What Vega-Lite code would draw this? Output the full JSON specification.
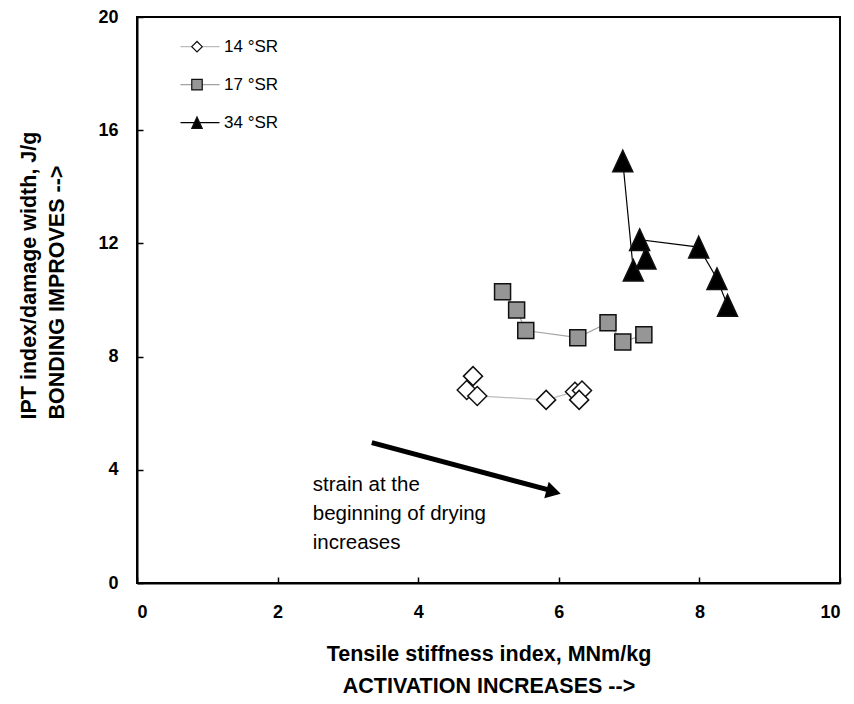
{
  "$schema": "https://vega.github.io/schema/vega-lite/v6.json",
  "width": 703,
  "height": 566,
  "autosize": {"type": "none"},
  "padding": {"left": 137, "top": 17, "right": 14, "bottom": 121},
  "background": "white",
  "config": {
    "view": {"stroke": "black", "strokeWidth": 2},
    "axis": {
      "grid": false,
      "domainColor": "black",
      "domainWidth": 2,
      "tickColor": "black",
      "tickWidth": 1.5,
      "tickSize": -6,
      "labelFont": "Liberation Sans",
      "labelFontSize": 18,
      "labelFontWeight": "bold",
      "labelColor": "black",
      "titleFont": "Liberation Sans",
      "titleFontSize": 21.5,
      "titleFontWeight": "bold",
      "titleColor": "black"
    },
    "legend": {
      "labelFont": "Liberation Sans",
      "labelFontSize": 17,
      "labelColor": "black"
    }
  },
  "datasets": {
    "pts": [
      {"series": "14 °SR", "seq": 1, "x": 4.78, "y": 7.31},
      {"series": "14 °SR", "seq": 2, "x": 4.69, "y": 6.82},
      {"series": "14 °SR", "seq": 3, "x": 4.84, "y": 6.61},
      {"series": "14 °SR", "seq": 4, "x": 5.82, "y": 6.47},
      {"series": "14 °SR", "seq": 5, "x": 6.23, "y": 6.76},
      {"series": "14 °SR", "seq": 6, "x": 6.33, "y": 6.8},
      {"series": "14 °SR", "seq": 7, "x": 6.29, "y": 6.47},
      {"series": "17 °SR", "seq": 1, "x": 5.2, "y": 10.29},
      {"series": "17 °SR", "seq": 2, "x": 5.4, "y": 9.65},
      {"series": "17 °SR", "seq": 3, "x": 5.53, "y": 8.92},
      {"series": "17 °SR", "seq": 4, "x": 6.27, "y": 8.67},
      {"series": "17 °SR", "seq": 5, "x": 6.7, "y": 9.2},
      {"series": "17 °SR", "seq": 6, "x": 6.91, "y": 8.52},
      {"series": "17 °SR", "seq": 7, "x": 7.21, "y": 8.77},
      {"series": "34 °SR", "seq": 1, "x": 6.91, "y": 14.91},
      {"series": "34 °SR", "seq": 2, "x": 7.06, "y": 11.05},
      {"series": "34 °SR", "seq": 3, "x": 7.24, "y": 11.48},
      {"series": "34 °SR", "seq": 4, "x": 7.15, "y": 12.13},
      {"series": "34 °SR", "seq": 5, "x": 7.99, "y": 11.87},
      {"series": "34 °SR", "seq": 6, "x": 8.25, "y": 10.75},
      {"series": "34 °SR", "seq": 7, "x": 8.4, "y": 9.81}
    ],
    "arrow": [{"x": 3.34, "y": 4.96, "x2": 5.87, "y2": 3.28}],
    "head": [{"x": 5.926, "y": 3.22}],
    "note": [{"x": 2.5, "y": 3.26, "label": "strain at the\nbeginning of drying\nincreases"}]
  },
  "layer": [
    {
      "data": {"name": "pts"},
      "mark": {"type": "line", "strokeWidth": 1.2},
      "encoding": {
        "x": {
          "field": "x", "type": "quantitative",
          "scale": {"domain": [0, 10], "nice": false},
          "axis": {
            "values": [0, 2, 4, 6, 8, 10],
            "format": "d",
            "labelPadding": 26,
            "title": ["Tensile stiffness index, MNm/kg", "ACTIVATION INCREASES -->"],
            "titleX": 351.5,
            "titleY": 77,
            "titleAlign": "center",
            "titleBaseline": "alphabetic",
            "titleLineHeight": 32
          }
        },
        "y": {
          "field": "y", "type": "quantitative",
          "scale": {"domain": [0, 20], "nice": false},
          "axis": {
            "values": [0, 4, 8, 12, 16, 20],
            "format": "d",
            "labelPadding": 25,
            "title": ["IPT index/damage width, J/g", "BONDING IMPROVES -->"],
            "titleX": -101.3,
            "titleY": 402,
            "titleAlign": "left",
            "titleBaseline": "alphabetic",
            "titleLineHeight": 28
          }
        },
        "order": {"field": "seq", "type": "quantitative"},
        "stroke": {
          "field": "series", "type": "nominal",
          "scale": {"domain": ["14 °SR", "17 °SR", "34 °SR"], "range": ["#bdbdbd", "#a3a3a3", "#000000"]},
          "legend": {
            "orient": "none",
            "legendX": 42.5,
            "legendY": 19.7,
            "title": null,
            "padding": 0,
            "symbolType": "stroke",
            "symbolSize": 1521,
            "symbolStrokeWidth": 1.2,
            "clipHeight": 20,
            "rowPadding": 18,
            "labelExpr": "''"
          }
        }
      }
    },
    {
      "data": {"name": "pts"},
      "mark": {"type": "point", "filled": true, "stroke": "#111111", "strokeWidth": 1.5, "opacity": 1},
      "encoding": {
        "x": {"field": "x", "type": "quantitative"},
        "y": {"field": "y", "type": "quantitative"},
        "shape": {
          "field": "series", "type": "nominal",
          "scale": {"range": ["diamond", "square", "M0,-1.08L1,1.08L-1,1.08Z"]},
          "legend": {
            "orient": "none",
            "legendX": 51.5,
            "legendY": 19.7,
            "title": null,
            "padding": 0,
            "symbolSize": 110,
            "symbolStrokeWidth": 1.2,
            "symbolStrokeColor": "#111111",
            "clipHeight": 20,
            "rowPadding": 18,
            "labelOffset": 18.5,
            "encoding": {"symbols": {"stroke": {"value": "#111111"}, "strokeWidth": {"value": 1.2}}}
          }
        },
        "fill": {
          "field": "series", "type": "nominal",
          "scale": {"range": ["#ffffff", "#969696", "#000000"]},
          "legend": {
            "orient": "none",
            "legendX": 51.5,
            "legendY": 19.7,
            "title": null,
            "padding": 0,
            "symbolSize": 110,
            "symbolStrokeWidth": 1.2,
            "symbolStrokeColor": "#111111",
            "clipHeight": 20,
            "rowPadding": 18,
            "labelOffset": 18.5,
            "encoding": {"symbols": {"stroke": {"value": "#111111"}, "strokeWidth": {"value": 1.2}}}
          }
        },
        "size": {
          "field": "series", "type": "nominal",
          "scale": {"type": "ordinal", "domain": ["34 °SR", "17 °SR", "14 °SR"], "range": [400, 256, 361]},
          "legend": null
        }
      }
    },
    {
      "data": {"name": "arrow"},
      "mark": {"type": "rule", "strokeWidth": 5, "color": "black", "strokeCap": "butt"},
      "encoding": {
        "x": {"field": "x", "type": "quantitative"},
        "y": {"field": "y", "type": "quantitative"},
        "x2": {"field": "x2"},
        "y2": {"field": "y2"}
      }
    },
    {
      "data": {"name": "head"},
      "mark": {"type": "point", "shape": "triangle-right", "filled": true, "color": "black", "size": 289, "angle": 15, "opacity": 1, "strokeWidth": 0},
      "encoding": {
        "x": {"field": "x", "type": "quantitative"},
        "y": {"field": "y", "type": "quantitative"}
      }
    },
    {
      "data": {"name": "note"},
      "mark": {"type": "text", "align": "left", "baseline": "alphabetic", "font": "Liberation Sans", "fontSize": 20.5, "lineBreak": "\n", "lineHeight": 29, "color": "black"},
      "encoding": {
        "x": {"field": "x", "type": "quantitative"},
        "y": {"field": "y", "type": "quantitative"},
        "text": {"field": "label"}
      }
    }
  ]
}
